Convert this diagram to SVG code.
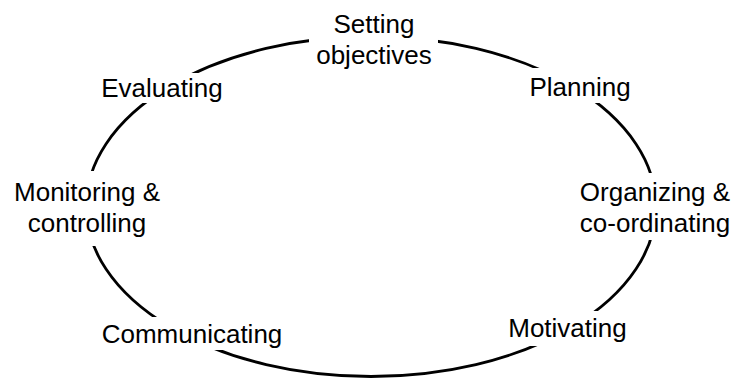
<svg xmlns="http://www.w3.org/2000/svg" width="739" height="378" viewBox="0 0 739 378">
  <style>
    .cycle { fill: none; stroke: #000; stroke-width: 2.8; }
    .bg { fill: #fff; stroke: none; }
    .lbl { font-family: "Liberation Sans", Arial, Helvetica, sans-serif; font-size: 26px; fill: #000; text-anchor: middle; }
  </style>
  <rect width="739" height="378" fill="#fff"/>
  <!-- the management cycle -->
  <g id="connectors">
    <ellipse class="cycle" cx="371" cy="206.5" rx="285" ry="170"/>
  </g>
  <!-- stages; each white backing breaks the ring under its label -->
  <g id="setting-objectives">
    <rect class="bg" x="309" y="8" width="129" height="64"/>
    <text class="lbl" x="374" y="32.5">Setting</text>
    <text class="lbl" x="374" y="64">objectives</text>
  </g>
  <g id="planning">
    <rect class="bg" x="525" y="68" width="111" height="35"/>
    <text class="lbl" x="580" y="96">Planning</text>
  </g>
  <g id="organizing">
    <rect class="bg" x="572" y="173" width="164" height="67"/>
    <text class="lbl" x="655" y="201">Organizing &amp;</text>
    <text class="lbl" x="655" y="232">co-ordinating</text>
  </g>
  <g id="motivating">
    <rect class="bg" x="502" y="311" width="132" height="35"/>
    <text class="lbl" x="567.5" y="337">Motivating</text>
  </g>
  <g id="communicating">
    <rect class="bg" x="95" y="317" width="195" height="33"/>
    <text class="lbl" x="192" y="343">Communicating</text>
  </g>
  <g id="monitoring">
    <rect class="bg" x="8" y="171" width="160" height="75"/>
    <text class="lbl" x="87" y="201">Monitoring &amp;</text>
    <text class="lbl" x="87" y="232">controlling</text>
  </g>
  <g id="evaluating">
    <rect class="bg" x="96" y="73" width="132" height="30"/>
    <text class="lbl" x="162" y="97">Evaluating</text>
  </g>
</svg>
